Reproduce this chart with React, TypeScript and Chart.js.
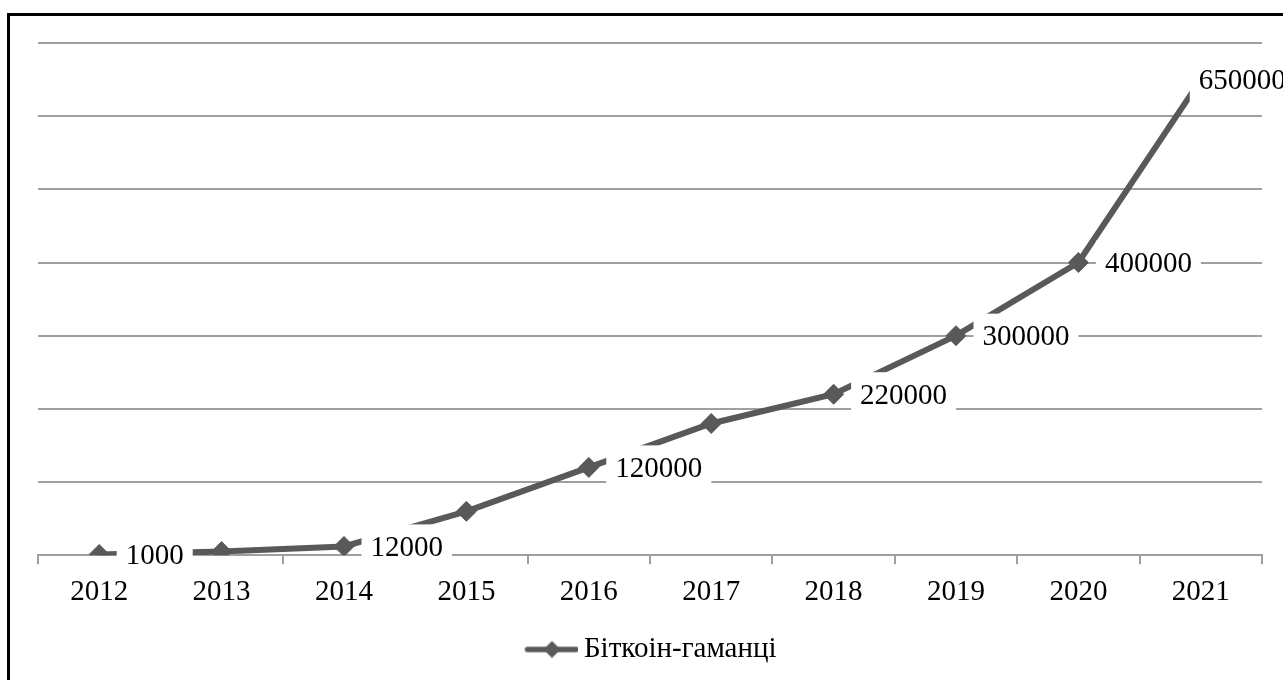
import React, { useEffect, useRef } from "react";
import { Chart, registerables } from "chart.js";

Chart.register(...registerables);

// Number of bitcoin wallets per year
const years = ["2012", "2013", "2014", "2015", "2016", "2017", "2018", "2019", "2020", "2021"];
const walletCounts = [1000, 5000, 12000, 60000, 120000, 180000, 220000, 300000, 400000, 650000];
const showValueLabel = [true, false, true, false, true, false, true, true, true, true];
const seriesName = "Біткоін-гаманці";

const yMax = 700000;
const yStep = 100000;

const LINE_COLOR = "#595959";
const GRID_COLOR = "#a0a0a0";
const FONT_FAMILY = '"Liberation Serif", "Times New Roman", serif';
const FONT_SIZE = 29;

// Legend marker: a short line with a diamond in the middle.
// The drawing sits in the right part of the canvas so it lines up with the text.
function makeLegendMarker(): HTMLCanvasElement {
  const c = document.createElement("canvas");
  c.width = 64;
  c.height = 22;
  const g = c.getContext("2d")!;
  g.strokeStyle = LINE_COLOR;
  g.lineWidth = 5.5;
  g.lineCap = "round";
  g.beginPath();
  g.moveTo(13, 11);
  g.lineTo(61.5, 11);
  g.stroke();
  g.fillStyle = LINE_COLOR;
  const cx = 37.5;
  g.beginPath();
  g.moveTo(cx - 8.5, 11);
  g.lineTo(cx, 11 - 8.5);
  g.lineTo(cx + 8.5, 11);
  g.lineTo(cx, 11 + 8.5);
  g.closePath();
  g.fill();
  return c;
}

// Value labels on white boxes, drawn to the right of their points
const valueLabels = {
  id: "valueLabels",
  afterDatasetsDraw(chart: any) {
    const ctx = chart.ctx as CanvasRenderingContext2D;
    const meta = chart.getDatasetMeta(0);
    const lastIndex = walletCounts.length - 1;
    ctx.save();
    ctx.font = `${FONT_SIZE}px ${FONT_FAMILY}`;
    ctx.textBaseline = "middle";
    ctx.textAlign = "left";
    walletCounts.forEach((v, i) => {
      if (!showValueLabel[i]) return;
      const pt = meta.data[i];
      const text = String(v);
      const w = ctx.measureText(text).width;
      const padX = 9;
      const boxH = 46;
      const boxX = i === lastIndex ? pt.x - 11 : pt.x + 17.5;
      ctx.fillStyle = "#ffffff";
      ctx.fillRect(boxX, pt.y + 1 - boxH / 2, w + padX * 2, boxH);
      ctx.fillStyle = "#000000";
      ctx.fillText(text, boxX + padX, pt.y + 2);
    });
    ctx.restore();
  },
};

export default function App() {
  const canvasRef = useRef<HTMLCanvasElement | null>(null);

  useEffect(() => {
    const canvas = canvasRef.current;
    if (!canvas) return;
    const marker = makeLegendMarker();
    const chart = new Chart(canvas, {
      type: "line",
      data: {
        labels: years,
        datasets: [
          {
            label: seriesName,
            data: walletCounts,
            borderColor: LINE_COLOR,
            backgroundColor: LINE_COLOR,
            borderWidth: 6,
            pointStyle: "rectRot",
            pointRadius: 10,
            pointBorderWidth: 1,
            pointBackgroundColor: LINE_COLOR,
            pointBorderColor: LINE_COLOR,
            tension: 0,
          },
        ],
      },
      options: {
        animation: false,
        responsive: false,
        devicePixelRatio: 1,
        layout: { padding: { left: 38, right: 21, top: 43, bottom: 6 } },
        scales: {
          x: {
            type: "category",
            offset: true,
            grid: {
              offset: true,
              drawOnChartArea: false,
              drawTicks: true,
              tickLength: 9,
              color: GRID_COLOR,
              lineWidth: 2,
            },
            border: { display: true, color: GRID_COLOR, width: 2 },
            ticks: {
              color: "#000000",
              padding: 11,
              font: { family: FONT_FAMILY, size: FONT_SIZE },
              maxRotation: 0,
            },
          },
          y: {
            min: 0,
            max: yMax,
            ticks: { display: false, stepSize: yStep },
            border: { display: false },
            grid: { drawTicks: false, color: GRID_COLOR, lineWidth: 2 },
          },
        },
        plugins: {
          legend: {
            position: "bottom",
            labels: {
              color: "#000000",
              font: { family: FONT_FAMILY, size: FONT_SIZE },
              usePointStyle: true,
              pointStyleWidth: 46,
              padding: 14,
              generateLabels: (c: any) =>
                c.data.datasets.map((ds: any, i: number) => ({
                  text: ds.label,
                  fillStyle: LINE_COLOR,
                  strokeStyle: LINE_COLOR,
                  lineWidth: 0,
                  pointStyle: marker,
                  datasetIndex: i,
                  hidden: false,
                  fontColor: "#000000",
                })),
            },
          },
          tooltip: { enabled: false },
        },
      },
      plugins: [valueLabels],
    });
    return () => chart.destroy();
  }, []);

  return (
    <div
      style={{
        position: "fixed",
        left: 0,
        top: 0,
        width: 1283,
        height: 680,
        background: "#ffffff",
        overflow: "hidden",
      }}
    >
      <canvas ref={canvasRef} width={1283} height={680} style={{ display: "block" }} />
      <div
        style={{
          position: "absolute",
          left: 7,
          top: 13,
          width: 1400,
          height: 800,
          borderLeft: "3px solid #000000",
          borderTop: "3px solid #000000",
          pointerEvents: "none",
        }}
      />
    </div>
  );
}
